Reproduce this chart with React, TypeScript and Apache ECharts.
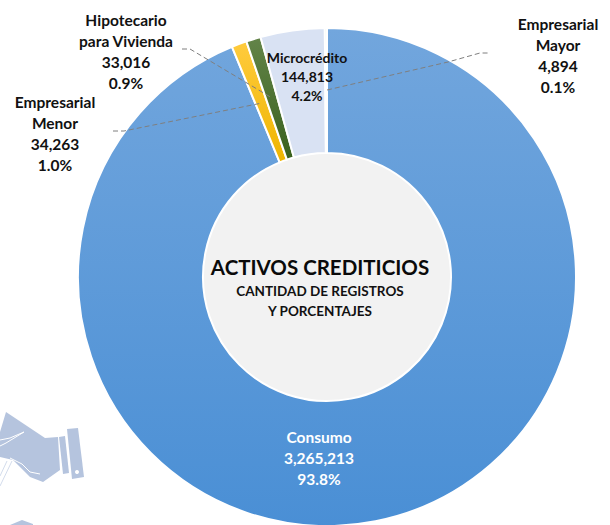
import React, { useEffect, useRef } from "react";
import * as echarts from "echarts";

const categories = ["Consumo", "Empresarial Menor", "Hipotecario para Vivienda", "Microcrédito", "Empresarial Mayor"];
const labelNames = ["Consumo", "Empresarial\nMenor", "Hipotecario\npara Vivienda", "Microcrédito", "Empresarial\nMayor"];
const values = [3265213, 34263, 33016, 144813, 4894];
const centerTitle = "ACTIVOS CREDITICIOS";
const centerSubtitle = "CANTIDAD DE REGISTROS\nY PORCENTAJES";

const grad = (a: string, b: string) => new echarts.graphic.LinearGradient(0, 0, 0, 1, [
  { offset: 0, color: a },
  { offset: 1, color: b },
]);
const sliceFills = () => [
  grad("#72a6dd", "#4a8fd5"),
  grad("#ffcb3d", "#eeb500"),
  grad("#638449", "#3a611d"),
  "#d9e2f3",
  "#e2efd9",
];
const labelBoxes = [
  { x: 319, y: 458, size: 15.5, lh: 21, color: "#ffffff" },
  { x: 55, y: 133, size: 15.5, lh: 21, color: "#111111" },
  { x: 126, y: 51, size: 15.5, lh: 21, color: "#111111" },
  { x: 307, y: 76, size: 14, lh: 19, color: "#111111" },
  { x: 558, y: 55, size: 15.5, lh: 21, color: "#111111" },
];
const leaders = [
  [[113, 131], [124, 131], [262, 103]],
  [[182, 49], [190, 49], [272, 98]],
  [[327, 90], [448, 62], [480, 53], [490, 53]],
];
const FONT = "Lato, 'Open Sans', sans-serif";
const HAND = "#b5c4de";

export default function App() {
  const ref = useRef<HTMLDivElement>(null);
  useEffect(() => {
    const chart = echarts.init(ref.current!, null, { renderer: "svg" });
    const fills = sliceFills();
    chart.setOption({
      animation: false,
      backgroundColor: "#ffffff",
      graphic: [
        { type: "polygon", z: 0, shape: { points: [[0, 432], [6, 412], [45, 438], [58, 437], [60, 470], [43, 482], [30, 477], [13, 460], [0, 457]] }, style: { fill: HAND } },
        { type: "polyline", z: 0, shape: { points: [[0, 440], [10, 438], [24, 432], [6, 443], [0, 446]] }, style: { stroke: "#ffffff", lineWidth: 1, fill: "none" } },
        { type: "polyline", z: 0, shape: { points: [[10, 458], [22, 464], [30, 472], [40, 474]] }, style: { stroke: "#ffffff", lineWidth: 1, fill: "none" } },
        { type: "line", z: 0, shape: { x1: 12, y1: 461, x2: 0, y2: 486 }, style: { stroke: "#d3dcec", lineWidth: 1 } },
        { type: "line", z: 0, shape: { x1: 7, y1: 461, x2: 0, y2: 476 }, style: { stroke: "#d3dcec", lineWidth: 1 } },
        { type: "polygon", z: 0, shape: { points: [[59, 437], [65, 436], [69, 473], [63, 474]] }, style: { fill: HAND } },
        { type: "polygon", z: 0, shape: { points: [[67, 429], [78, 428], [84, 477], [72, 479]] }, style: { fill: HAND } },
        { type: "circle", z: 0, shape: { cx: 77, cy: 472, r: 2 }, style: { fill: "#ffffff" } },
        { type: "polygon", z: 0, shape: { points: [[10, 525], [22, 520], [33, 524], [33, 525]] }, style: { fill: HAND } },
        { type: "circle", z: 1, shape: { cx: 327, cy: 277, r: 125 }, style: { fill: "#f2f2f2" } },
        ...leaders.map((points) => ({
          type: "polyline",
          z: 5,
          shape: { points },
          style: { stroke: "#7f7f7f", lineWidth: 1, lineDash: [5, 3], fill: "none" },
        })),
        { type: "text", z: 6, x: 320, y: 267, style: { text: centerTitle, font: `bold 20.5px ${FONT}`, fill: "#0a0a0a", align: "center", verticalAlign: "middle" } },
        { type: "text", z: 6, x: 320, y: 301, style: { text: centerSubtitle, font: `bold 13.5px ${FONT}`, lineHeight: 20, fill: "#111111", align: "center", verticalAlign: "middle" } },
      ],
      series: [
        {
          type: "pie",
          center: [327, 277],
          radius: [124, 249],
          startAngle: 90,
          clockwise: true,
          percentPrecision: 1,
          avoidLabelOverlap: false,
          itemStyle: { borderColor: "#ffffff", borderWidth: 2 },
          labelLine: { show: false },
          label: { show: true },
          labelLayout: (p: any) => {
            const b = labelBoxes[p.dataIndex];
            return { x: b.x, y: b.y, align: "center", verticalAlign: "middle" };
          },
          data: categories.map((name, i) => ({
            name,
            value: values[i],
            itemStyle: { color: fills[i] },
            label: {
              fontFamily: FONT,
              fontWeight: "bold",
              fontSize: labelBoxes[i].size,
              lineHeight: labelBoxes[i].lh,
              color: labelBoxes[i].color,
              align: "center",
              formatter: (p: any) => `${labelNames[i]}\n${values[i].toLocaleString("en-US")}\n${p.percent.toFixed(1)}%`,
            },
          })),
        },
      ],
    });
    return () => chart.dispose();
  }, []);
  return <div ref={ref} style={{ position: "fixed", left: 0, top: 0, width: 610, height: 525 }} />;
}
